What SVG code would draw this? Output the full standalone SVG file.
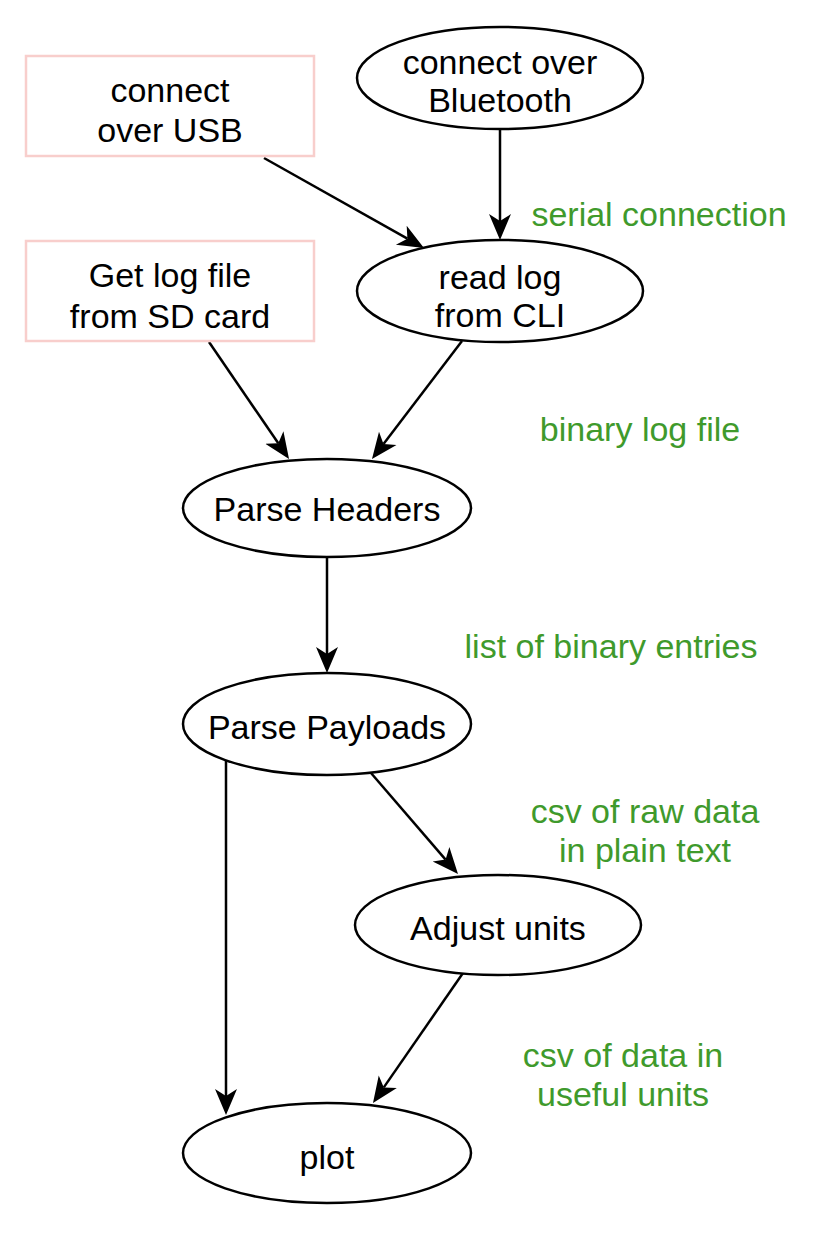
<svg xmlns="http://www.w3.org/2000/svg" width="826" height="1236" viewBox="0 0 826 1236">
<style>
.node{fill:#ffffff;stroke:#000000;stroke-width:2.5}
.box{fill:#ffffff;stroke:#f8cecc;stroke-width:2.5}
.t{font-family:"Liberation Sans",Arial,Helvetica,sans-serif;font-size:34px;fill:#000000;text-anchor:middle}
.g{font-family:"Liberation Sans",Arial,Helvetica,sans-serif;font-size:34px;fill:#3f9a2c;text-anchor:middle}
.edge{fill:none;stroke:#000000;stroke-width:2.5}
</style>
<defs>
<marker id="arr" markerUnits="userSpaceOnUse" markerWidth="30" markerHeight="26" viewBox="0 -13 30 26" refX="7" refY="0" orient="auto">
<path d="M0,-11 L26,0 L0,11 L7,0 Z" fill="#000000"/>
</marker>
</defs>
<rect width="826" height="1236" fill="#ffffff"/>
<g id="connectors">
<path class="edge" d="M264,158 L407.4,238.7" marker-end="url(#arr)"/>
<path class="edge" d="M500,128 L500,221" marker-end="url(#arr)"/>
<path class="edge" d="M209,342 L278.3,443.3" marker-end="url(#arr)"/>
<path class="edge" d="M462,341 L383.5,443.9" marker-end="url(#arr)"/>
<path class="edge" d="M327,558 L327,654" marker-end="url(#arr)"/>
<path class="edge" d="M371,773 L445.6,859.6" marker-end="url(#arr)"/>
<path class="edge" d="M226,760 L226,1096" marker-end="url(#arr)"/>
<path class="edge" d="M463,973 L383.8,1087.4" marker-end="url(#arr)"/>
</g>
<g id="usb">
<rect class="box" x="26" y="56" width="288" height="100"/>
<text class="t" x="170" y="102">connect</text>
<text class="t" x="170" y="142">over USB</text>
</g>
<g id="bluetooth">
<ellipse class="node" cx="500" cy="78" rx="143" ry="51"/>
<text class="t" x="500" y="74">connect over</text>
<text class="t" x="500" y="112">Bluetooth</text>
</g>
<g id="sdcard">
<rect class="box" x="26" y="241" width="288" height="100"/>
<text class="t" x="170" y="287">Get log file</text>
<text class="t" x="170" y="328">from SD card</text>
</g>
<g id="readlog">
<ellipse class="node" cx="500" cy="291" rx="143" ry="51"/>
<text class="t" x="500" y="289">read log</text>
<text class="t" x="500" y="327">from CLI</text>
</g>
<g id="headers">
<ellipse class="node" cx="327" cy="508" rx="144" ry="49"/>
<text class="t" x="327" y="521">Parse Headers</text>
</g>
<g id="payloads">
<ellipse class="node" cx="327" cy="724" rx="144" ry="51"/>
<text class="t" x="327" y="739">Parse Payloads</text>
</g>
<g id="adjust">
<ellipse class="node" cx="498" cy="925" rx="143" ry="50"/>
<text class="t" x="498" y="940">Adjust units</text>
</g>
<g id="plot">
<ellipse class="node" cx="327" cy="1153" rx="144" ry="50"/>
<text class="t" x="327" y="1169">plot</text>
</g>
<g id="labels">
<text class="g" x="659" y="226">serial connection</text>
<text class="g" x="640" y="441">binary log file</text>
<text class="g" x="611" y="658">list of binary entries</text>
<text class="g" x="645" y="823">csv of raw data</text>
<text class="g" x="645" y="862">in plain text</text>
<text class="g" x="623" y="1067">csv of data in</text>
<text class="g" x="623" y="1106">useful units</text>
</g>
</svg>
